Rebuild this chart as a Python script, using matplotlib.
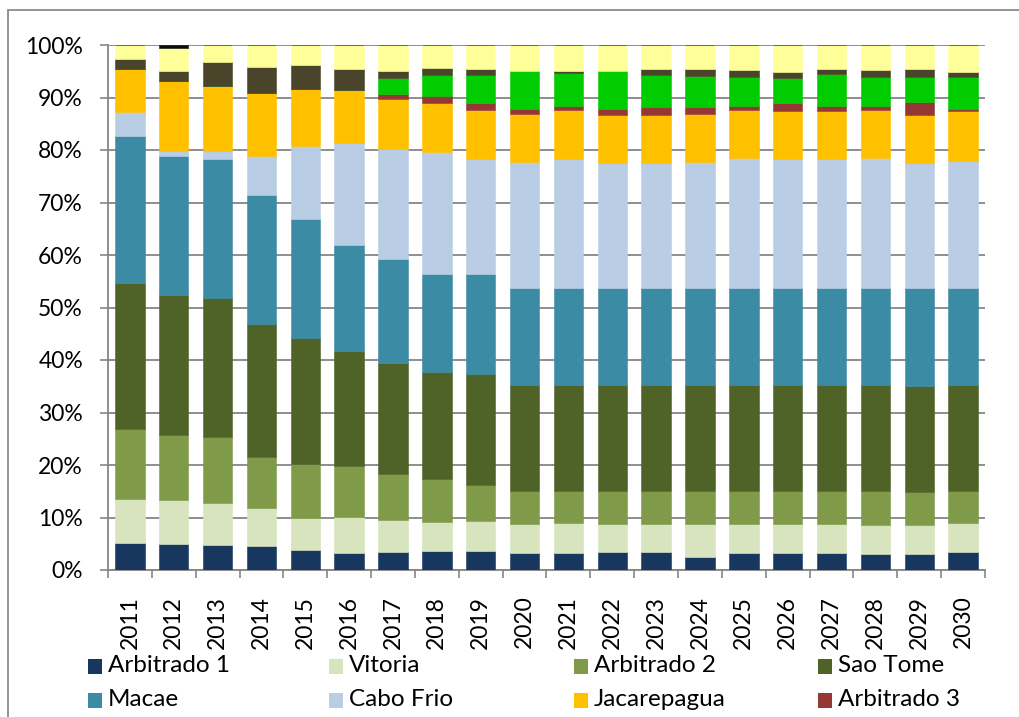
"""
Stacked 100% bars - participacao por base, 2011-2030
"""

import numpy as np
import matplotlib
matplotlib.use('Agg')
import matplotlib.pyplot as plt
from matplotlib.patches import Rectangle
from matplotlib.ticker import PercentFormatter

plt.rcParams['font.family'] = ['Lato', 'DejaVu Sans']

years = [str(y) for y in range(2011, 2031)]

# shares per year (%), bottom to top
arbitrado_1 = [5.1, 5.0, 4.8, 4.6, 3.9, 3.3, 3.4, 3.6, 3.7, 3.3,
               3.3, 3.4, 3.5, 2.5, 3.2, 3.3, 3.3, 3.0, 3.0, 3.4]
vitoria = [8.5, 8.4, 8.0, 7.2, 6.1, 6.8, 6.1, 5.5, 5.7, 5.5,
           5.6, 5.4, 5.3, 6.3, 5.6, 5.5, 5.5, 5.6, 5.6, 5.5]
arbitrado_2 = [13.3, 12.3, 12.5, 9.7, 10.2, 9.7, 8.7, 8.2, 6.8, 6.2,
               6.1, 6.2, 6.2, 6.2, 6.2, 6.2, 6.2, 6.4, 6.2, 6.1]
sao_tome = [27.8, 26.6, 26.6, 25.3, 24.0, 22.0, 21.3, 20.5, 21.1, 20.2,
            20.2, 20.2, 20.2, 20.2, 20.2, 20.2, 20.2, 20.2, 20.3, 20.2]
macae = [28.0, 26.6, 26.4, 24.6, 22.7, 20.1, 19.7, 18.6, 19.1, 18.5,
         18.5, 18.5, 18.5, 18.5, 18.5, 18.5, 18.5, 18.5, 18.6, 18.5]
cabo_frio = [4.6, 1.0, 1.6, 7.4, 13.9, 19.5, 20.9, 23.3, 21.8, 24.0,
             24.6, 23.8, 23.8, 24.0, 24.8, 24.6, 24.6, 24.8, 23.8, 24.3]
jacarepagua = [8.1, 13.2, 12.2, 12.1, 10.8, 10.0, 9.6, 9.3, 9.5, 9.2,
               9.3, 9.2, 9.2, 9.2, 9.2, 9.2, 9.2, 9.2, 9.2, 9.4]
arbitrado_3 = [0, 0, 0, 0, 0, 0, 1.0, 1.2, 1.2, 0.9,
               0.8, 1.1, 1.4, 1.2, 0.6, 1.5, 0.9, 0.6, 2.4, 0.4]
# series below are not shown in the visible part of the legend
serie_9 = [0, 0, 0, 0, 0, 0, 3.0, 4.1, 5.4, 7.2,
           6.2, 7.2, 6.2, 5.9, 5.6, 4.8, 6.0, 5.6, 4.8, 6.1]
serie_10 = [2.0, 2.0, 4.6, 5.0, 4.5, 4.1, 1.3, 1.3, 1.2, 0,
            0.4, 0, 1.1, 1.4, 1.4, 1.1, 1.0, 1.3, 1.5, 1.0]
serie_11 = [2.6, 4.3, 3.3, 4.1, 3.9, 4.5, 5.0, 4.4, 4.5, 5.0,
            5.0, 5.0, 4.6, 4.6, 4.7, 5.1, 4.6, 4.8, 4.6, 5.1]
serie_12 = [0, 0.6, 0, 0, 0, 0, 0, 0, 0, 0,
            0, 0, 0, 0, 0, 0, 0, 0, 0, 0]

series = [
    ('Arbitrado 1', arbitrado_1, '#17375E'),
    ('Vitoria', vitoria, '#D7E4BD'),
    ('Arbitrado 2', arbitrado_2, '#7F9A48'),
    ('Sao Tome', sao_tome, '#4F6228'),
    ('Macae', macae, '#3B8BA4'),
    ('Cabo Frio', cabo_frio, '#B9CDE5'),
    ('Jacarepagua', jacarepagua, '#FFC000'),
    ('Arbitrado 3', arbitrado_3, '#953735'),
    ('Serie 9', serie_9, '#00CC00'),
    ('Serie 10', serie_10, '#4A452A'),
    ('Serie 11', serie_11, '#FFFF99'),
    ('Serie 12', serie_12, '#0D0D0D'),
]
LEGEND_SHOWN = 8

W, H = 1020, 717
fig = plt.figure(figsize=(W / 100, H / 100), dpi=100)
ax = fig.add_axes([108 / W, 1 - 570 / H, (985 - 108) / W, (570 - 45) / H])

x = np.arange(len(years))
bottom = np.zeros(len(years))
for name, vals, col in series:
    v = np.array(vals, dtype=float)
    ax.bar(x, v, width=0.67, bottom=bottom, color=col, edgecolor=col,
           linewidth=0.4, zorder=3, label=name)
    bottom += v

ax.set_xlim(-0.5, len(years) - 0.5)
ax.set_ylim(0, 100)
ax.set_yticks(np.arange(0, 101, 10))
ax.yaxis.set_major_formatter(PercentFormatter(decimals=0))
ax.grid(axis='y', color='#868686', linewidth=1.3, zorder=0)

ax.set_xticks(x)
ax.set_xticklabels(years, rotation=90)
ax.set_xticks(np.arange(-0.5, len(years), 1), minor=True)
ax.tick_params(axis='x', which='major', length=0, pad=18.5, labelsize=16.5)
ax.tick_params(axis='x', which='minor', length=6, width=1.2, color='#868686')
ax.tick_params(axis='y', length=6, width=1.2, color='#868686', pad=12, labelsize=16.5)

for s in ['top', 'right']:
    ax.spines[s].set_visible(False)
for s in ['left', 'bottom']:
    ax.spines[s].set_color('#868686')
    ax.spines[s].set_linewidth(1.3)

# legend laid out in equal-width columns like the spreadsheet one
col_x = [88, 329, 574, 818]
row_y = [666, 700]
for i, (name, vals, col) in enumerate(series[:LEGEND_SHOWN]):
    cx = col_x[i % 4]
    cy = row_y[i // 4]
    fig.add_artist(Rectangle((cx / W, 1 - (cy + 7.5) / H), 14 / W, 15 / H,
                             transform=fig.transFigure, facecolor=col,
                             edgecolor='none'))
    fig.text((cx + 20) / W, 1 - cy / H, name, fontsize=17.5,
             va='center', ha='left')

# chart area frame (runs off the right and bottom edges)
fig.add_artist(Rectangle((8 / W, -0.1), 1.2, 1 - 10 / H + 0.1,
                         transform=fig.transFigure, facecolor='none',
                         edgecolor='#8c8c8c', linewidth=1.3))

fig.savefig('out.png', dpi=100)
